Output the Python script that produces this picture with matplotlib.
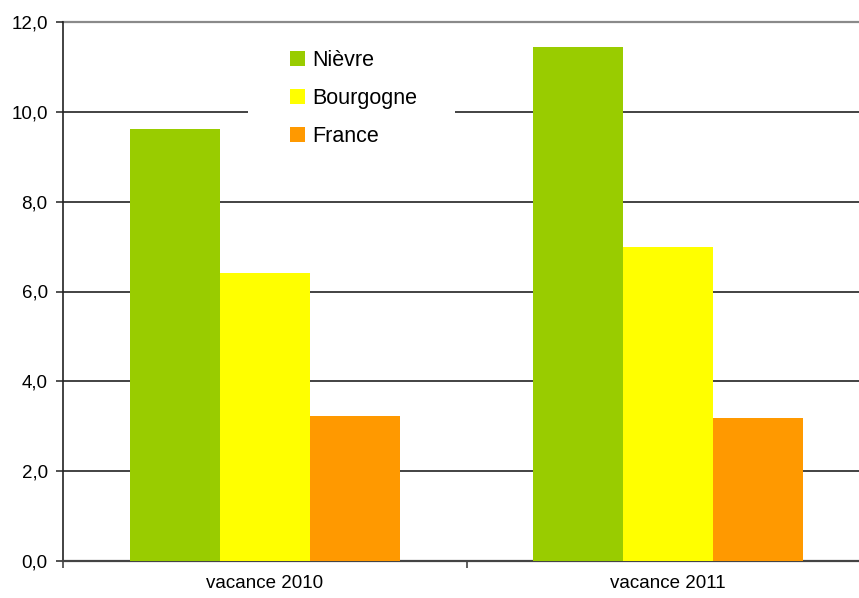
import matplotlib
matplotlib.use("Agg")
import matplotlib.pyplot as plt
from matplotlib.patches import Patch, Rectangle
from matplotlib.ticker import FixedLocator, FuncFormatter

plt.rcParams['font.family'] = ['Liberation Sans', 'DejaVu Sans']

categories = ["vacance 2010", "vacance 2011"]
series_names = ["Nièvre", "Bourgogne", "France"]
nievre = [9.63, 11.45]
bourgogne = [6.41, 6.99]
france = [3.23, 3.18]
colors = ["#99CC00", "#FFFF00", "#FF9900"]
y_ticks = [0, 2, 4, 6, 8, 10, 12]

W, H = 859, 598
ax_left, ax_right, ax_bottom, ax_top = 63, 870, 560.7, 22.3
ax_w, ax_h = ax_right - ax_left, ax_bottom - ax_top

fig = plt.figure(figsize=(W / 100, H / 100), dpi=100)
ax = fig.add_axes([ax_left / W, 1 - ax_bottom / H, ax_w / W, ax_h / H])


def fx(px):
    return (px - ax_left) / ax_w


def fy(py):
    return (ax_bottom - py) / ax_h


bar_w = 0.223
values = [nievre, bourgogne, france]
for i, (vals, col) in enumerate(zip(values, colors)):
    xs = [c + (i - 1) * bar_w for c in range(len(categories))]
    ax.bar(xs, vals, width=bar_w, color=col, linewidth=0, zorder=3)

ax.set_xlim(-0.5, len(categories) - 0.5)
ax.set_ylim(0, 12)

# horizontal gridlines
for t in y_ticks[1:-1]:
    ax.axhline(t, color="#222222", linewidth=1.2, zorder=1)
ax.axhline(12, color="#8a8a8a", linewidth=1.6, zorder=1, clip_on=False)

ax.yaxis.set_major_locator(FixedLocator(y_ticks))
ax.yaxis.set_major_formatter(FuncFormatter(lambda v, p: f"{v:.1f}".replace(".", ",")))

ax.xaxis.set_major_locator(FixedLocator([k - 0.5 for k in range(len(categories) + 1)]))
ax.xaxis.set_major_formatter(FuncFormatter(lambda v, p: ""))
ax.set_xticks(range(len(categories)), categories, minor=True)

ax.tick_params(axis="y", which="major", direction="out", length=5, width=1.2,
               color="#333333", labelsize=13.5, pad=6)
ax.tick_params(axis="x", which="major", direction="out", length=5, width=1.2,
               color="#444444")
ax.tick_params(axis="x", which="minor", length=0, labelsize=13.5, pad=10)

for s in ["top", "right"]:
    ax.spines[s].set_visible(False)
ax.spines["left"].set_color("#222222")
ax.spines["left"].set_linewidth(1.2)
ax.spines["bottom"].set_color("#444444")
ax.spines["bottom"].set_linewidth(1.6)

# white backdrop behind the legend entries
ax.add_patch(Rectangle((fx(248), fy(155)), fx(455) - fx(248), fy(32) - fy(155),
                       transform=ax.transAxes, facecolor="white",
                       edgecolor="none", zorder=2))

handles = [Patch(facecolor=c, edgecolor="none") for c in colors]
leg = ax.legend(handles, series_names, loc="upper left",
                bbox_to_anchor=(fx(290), fy(50)), frameon=False,
                fontsize=15.5, handlelength=0.7, handleheight=0.7,
                handletextpad=0.33, labelspacing=0.78, borderpad=0,
                borderaxespad=0)
leg.set_zorder(5)

fig.savefig("out.png", dpi=100)
